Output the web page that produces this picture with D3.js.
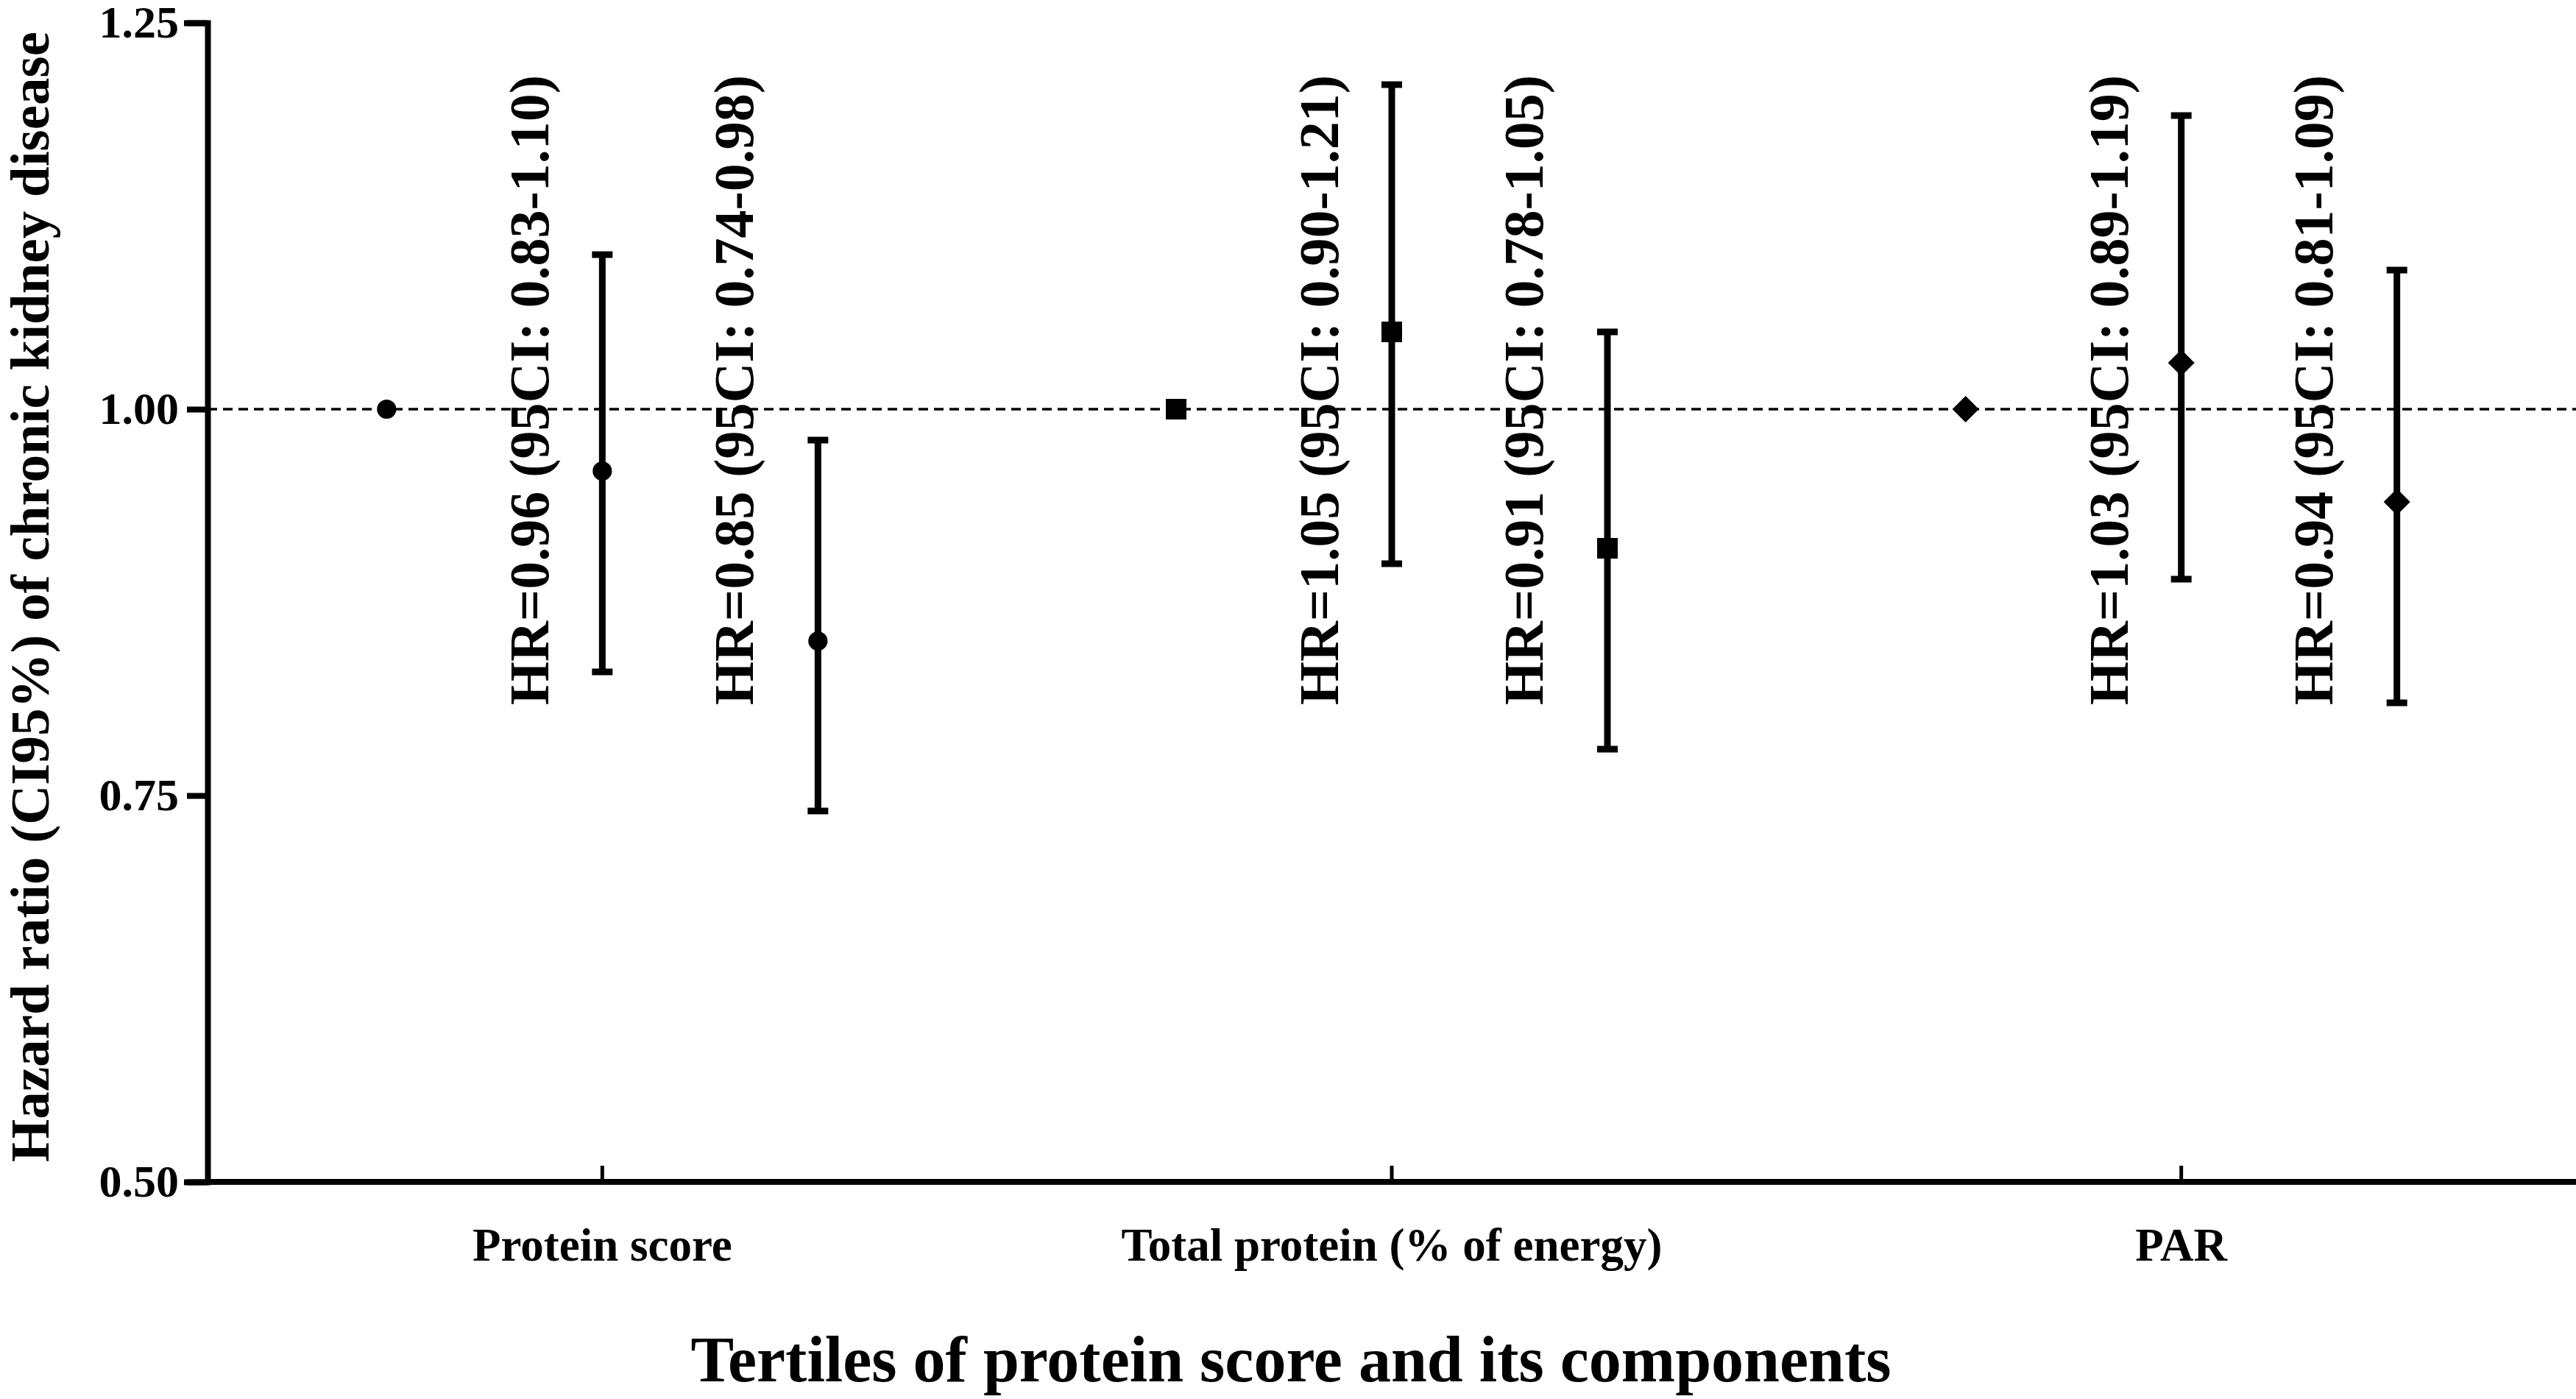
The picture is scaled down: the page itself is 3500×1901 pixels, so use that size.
<!DOCTYPE html>
<html>
<head>
<meta charset="utf-8">
<script src="https://cdn.jsdelivr.net/npm/d3@7"></script>
<style>
  body { margin: 0; background: #fff; }
  svg { display: block; }
  svg text { font-family: "Liberation Serif", "Times New Roman", serif; font-weight: bold; }
</style>
</head>
<body>
<div id="chart"></div>
<script>
// Chart data
const groups = ['Protein score', 'Total protein (% of energy)', 'PAR'];
const tertiles = ['T1', 'T2', 'T3'];
const markerShapes = ['circle', 'square', 'diamond'];   // one per group
const hrValues = [1.00, 0.96, 0.85, 1.00, 1.05, 0.91, 1.00, 1.03, 0.94];
const ciLower  = [null, 0.83, 0.74, null, 0.90, 0.78, null, 0.89, 0.81];
const ciUpper  = [null, 1.10, 0.98, null, 1.21, 1.05, null, 1.19, 1.09];
const yTicks = [0.50, 0.75, 1.00, 1.25];
const yTitle = 'Hazard ratio (CI95%) of chronic kidney disease';
const xTitle = 'Tertiles of protein score and its components';

const width = 3500, height = 1901;
const margin = {top: 31, right: 0, bottom: 295, left: 282};

const svg = d3.select('#chart').append('svg')
    .attr('width', width)
    .attr('height', height);

// Scales
const x = d3.scaleBand().domain(groups).range([margin.left, width - margin.right]).paddingInner(0);
const xIn = d3.scalePoint().domain(tertiles).range([-293, 293]);
const y = d3.scaleLinear().domain([0.5, 1.25]).range([height - margin.bottom, margin.top]);

const points = hrValues.map((v, i) => ({
    group: groups[Math.floor(i / 3)],
    tertile: tertiles[i % 3],
    shape: markerShapes[Math.floor(i / 3)],
    hr: v,
    lo: ciLower[i],
    hi: ciUpper[i]
}));
const px = d => x(d.group) + x.bandwidth() / 2 + xIn(d.tertile);

// Reference line at HR = 1
svg.append('line')
    .attr('x1', margin.left).attr('x2', width)
    .attr('y1', y(1)).attr('y2', y(1))
    .attr('stroke', '#000')
    .attr('stroke-width', 3.5)
    .attr('stroke-dasharray', '13,8');

// Y axis
const yAxis = svg.append('g')
    .attr('transform', `translate(${margin.left},0)`)
    .call(d3.axisLeft(y).tickValues(yTicks).tickFormat(d3.format('.2f')).tickSize(28).tickPadding(11));
yAxis.attr('font-family', null).attr('font-size', null);
yAxis.select('.domain').attr('stroke-width', 8).attr('stroke-linecap', 'square');
yAxis.selectAll('.tick line').attr('stroke-width', 8);
yAxis.selectAll('.tick text').attr('font-size', 62).attr('fill', '#000');

// X axis, ticks pointing up into the plot
const xAxis = svg.append('g')
    .attr('transform', `translate(0,${y(0.5)})`)
    .call(d3.axisBottom(x).tickSizeInner(-22).tickSizeOuter(0).tickPadding(62));
xAxis.attr('font-family', null).attr('font-size', null);
xAxis.select('.domain').attr('stroke-width', 8).attr('d', `M${margin.left},0H${width}`);
xAxis.selectAll('.tick line').attr('stroke-width', 5);
xAxis.selectAll('.tick text').attr('font-size', 63).attr('fill', '#000');

// Error bars
const bars = svg.append('g').selectAll('g')
    .data(points.filter(d => d.lo !== null))
    .join('g')
    .attr('stroke', '#000')
    .attr('stroke-width', 9);
bars.append('line')
    .attr('x1', px).attr('x2', px)
    .attr('y1', d => y(d.lo)).attr('y2', d => y(d.hi));
bars.append('line')
    .attr('x1', d => px(d) - 14).attr('x2', d => px(d) + 14)
    .attr('y1', d => y(d.hi)).attr('y2', d => y(d.hi));
bars.append('line')
    .attr('x1', d => px(d) - 14).attr('x2', d => px(d) + 14)
    .attr('y1', d => y(d.lo)).attr('y2', d => y(d.lo));

// Markers
const symbolFor = {
    circle: d3.symbol(d3.symbolCircle, 540),
    square: d3.symbol(d3.symbolSquare, 784),
    diamond: d3.symbol(d3.symbolSquare, 650)
};
svg.append('g').selectAll('path')
    .data(points)
    .join('path')
    .attr('d', d => symbolFor[d.shape]())
    .attr('transform', d => `translate(${px(d)},${y(d.hr)})` + (d.shape === 'diamond' ? ' rotate(45)' : ''))
    .attr('fill', '#000');

// HR annotations, rotated, left of each bar
const labelOffset = {T2: 73, T3: 88};
const labelBottom = 958;
svg.append('g').selectAll('text')
    .data(points.filter(d => d.lo !== null))
    .join('text')
    .attr('transform', d => `translate(${px(d) - labelOffset[d.tertile]},${labelBottom}) rotate(-90)`)
    .attr('font-size', 76)
    .attr('text-anchor', 'start')
    .text(d => `HR=${d.hr.toFixed(2)} (95CI: ${d.lo.toFixed(2)}-${d.hi.toFixed(2)})`);

// Axis titles
svg.append('text')
    .attr('transform', `translate(66,811) rotate(-90)`)
    .attr('text-anchor', 'middle')
    .attr('font-size', 75)
    .text(yTitle);

svg.append('text')
    .attr('x', 1754)
    .attr('y', 1877)
    .attr('text-anchor', 'middle')
    .attr('font-size', 88)
    .text(xTitle);
</script>
</body>
</html>
